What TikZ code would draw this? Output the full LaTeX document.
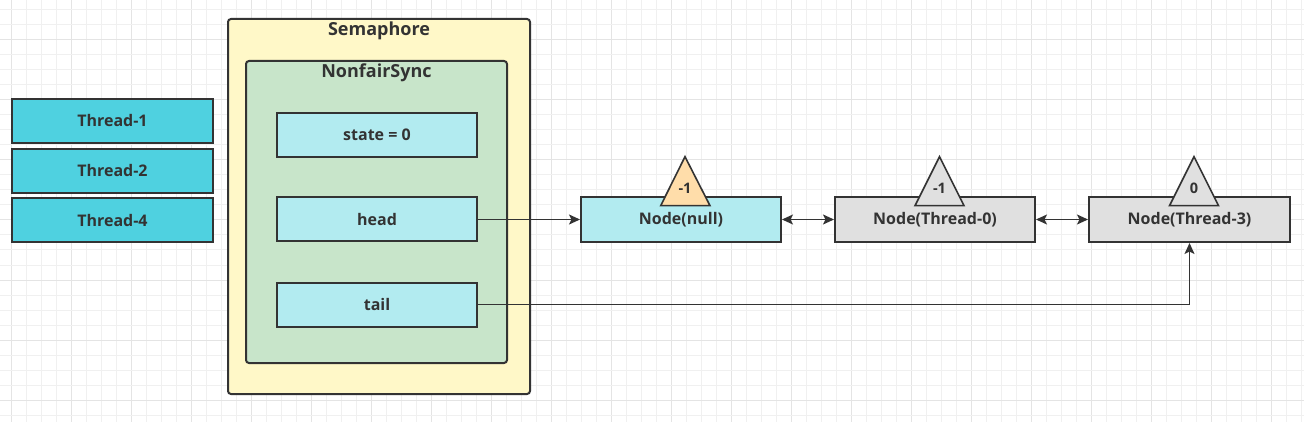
\documentclass[tikz,border=0pt]{standalone}
\usepackage{fontspec}
\setmainfont{Open Sans}
\usetikzlibrary{arrows.meta}
\definecolor{thr}{HTML}{4FD1E0}
\definecolor{lcyan}{HTML}{B2EBF0}
\definecolor{sema}{HTML}{FFF8C8}
\definecolor{nfs}{HTML}{C8E5CA}
\definecolor{peach}{HTML}{FFDDAA}
\definecolor{gry}{HTML}{E0E0E0}
\definecolor{ink}{HTML}{333333}
\definecolor{gmin}{HTML}{F0F0F0}
\definecolor{gmaj}{HTML}{E4E4E4}
\tikzset{
  box/.style={draw=ink, line width=2pt, rectangle, inner sep=0pt, minimum width=200pt, minimum height=44pt, font=\bfseries\fontsize{16}{18}\selectfont, text=ink},
  container/.style={draw=ink, line width=2pt, rectangle, rounded corners=3pt, inner sep=0pt},
  title/.style={font=\bfseries\fontsize{18}{20}\selectfont, text=ink, inner sep=0pt},
  tri/.style={draw=ink, line width=1.6pt, line join=miter},
  trilabel/.style={font=\bfseries\fontsize{14.5}{16}\selectfont, text=ink, inner sep=0pt},
  tip/.style={Stealth[length=11pt,width=10pt,inset=2.5pt]},
  conn/.style={draw=ink, line width=1.5pt, -{Stealth[length=11pt,width=10pt,inset=2.5pt]}},
  dconn/.style={draw=ink, line width=1.5pt, {Stealth[length=11pt,width=10pt,inset=2.5pt]}-{Stealth[length=11pt,width=10pt,inset=2.5pt]}}
}
\begin{document}
\begin{tikzpicture}[x=1pt,y=-1pt]
\useasboundingbox (0,0) rectangle (1304,422);
\fill[white] (0,0) rectangle (1304,422);
% grid
\foreach \i in {0,...,86}{
  \pgfmathtruncatemacro{\m}{mod(\i,4)}
  \ifnum\m=0 \draw[gmaj, line width=1pt] ({11.7+15*\i},0) -- ({11.7+15*\i},422);
  \else \draw[gmin, line width=1pt] ({11.7+15*\i},0) -- ({11.7+15*\i},422); \fi
}
\foreach \k in {1,...,28}{
  \pgfmathtruncatemacro{\m}{mod(\k,4)}
  \ifnum\m=3 \draw[gmaj, line width=1pt] (0,{-5+15*\k}) -- (1304,{-5+15*\k});
  \else \draw[gmin, line width=1pt] (0,{-5+15*\k}) -- (1304,{-5+15*\k}); \fi
}
% threads
\node[box, fill=thr, minimum width=201pt] (t1) at (112.5,121) {Thread-1};
\node[box, fill=thr, minimum width=201pt] (t2) at (112.5,171) {Thread-2};
\node[box, fill=thr, minimum width=201pt] (t4) at (112.5,220.5) {Thread-4};
% Semaphore
\node[container, fill=sema, minimum width=302pt, minimum height=375pt] (sem) at (379,206.5) {};
\node[title] (semt) at (379,31) {Semaphore};
\node[container, fill=nfs, minimum width=261pt, minimum height=302pt] (nfs) at (376.5,212) {};
\node[title] (nfst) at (376.5,73) {NonfairSync};
\node[box, fill=lcyan] (state) at (377,135) {state = 0};
\node[box, fill=lcyan] (head) at (377,219.5) {head};
\node[box, fill=lcyan] (tail) at (377,304.5) {tail};
% queue nodes
\node[box, fill=lcyan, minimum height=45pt] (nnull) at (681,219.5) {Node(null)};
\node[box, fill=gry, minimum height=45pt] (n0) at (935,219.5) {Node(Thread-0)};
\node[box, fill=gry, minimum height=45pt, minimum width=201pt] (n3) at (1189.5,219.5) {Node(Thread-3)};
% triangles
\filldraw[tri, fill=peach] (660.7,205.7) -- (685,156.7) -- (710,205.7) -- cycle;
\node[trilabel] (w1) at (685,188.5) {-1};
\filldraw[tri, fill=gry] (915,205.7) -- (939.5,156.7) -- (964,205.7) -- cycle;
\node[trilabel] (w2) at (939.5,188.5) {-1};
\filldraw[tri, fill=gry] (1169.5,205.7) -- (1194,156.7) -- (1218.5,205.7) -- cycle;
\node[trilabel] (w3) at (1194,188.5) {0};
% connectors
\draw[conn] (head.east) -- (nnull.west);
\draw[dconn] (nnull.east) -- (n0.west);
\draw[dconn] (n0.east) -- (n3.west);
\draw[conn] (tail.east) -| (n3.south);
\end{tikzpicture}
\end{document}
